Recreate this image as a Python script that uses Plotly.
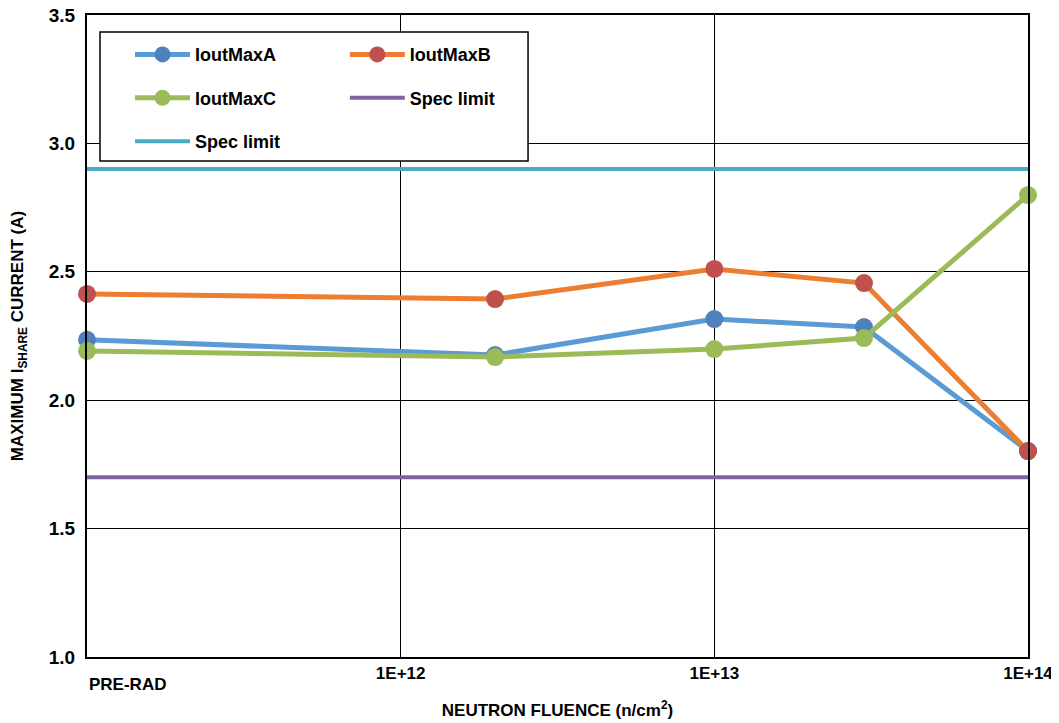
import plotly.graph_objects as go

# ---- data ----
fluence = [1e11, 2e12, 1e13, 3e13, 1e14]
iout_a = [2.235, 2.176, 2.316, 2.285, 1.802]
iout_b = [2.414, 2.394, 2.511, 2.456, 1.802]
iout_c = [2.192, 2.168, 2.199, 2.242, 2.799]
spec_x = [1e11, 1e14]
spec_low = [1.7, 1.7]
spec_high = [2.9, 2.9]
x_tickvals = [1e12, 1e13, 1e14]
x_ticktext = ["1E+12", "1E+13", "1E+14"]
prerad_label = "PRE-RAD"

FONT = "Arial, Liberation Sans, sans-serif"

fig = go.Figure()

def series(x, y, name, line_color, marker_color, legend):
    fig.add_trace(go.Scatter(
        x=x, y=y, name=name, mode="lines+markers",
        line=dict(color=line_color, width=5),
        marker=dict(color=marker_color, size=18),
        cliponaxis=False, legend=legend, legendgroup=name))

series(fluence, iout_a, "IoutMaxA", "#5B9BD5", "#4F81BD", "legend")
series(fluence, iout_b, "IoutMaxB", "#ED7D31", "#C0504D", "legend2")
series(fluence, iout_c, "IoutMaxC", "#9BBB59", "#9BBB59", "legend")
fig.add_trace(go.Scatter(x=spec_x, y=spec_low, name="Spec limit", mode="lines",
                         line=dict(color="#8064A2", width=4), legend="legend2",
                         legendgroup="s1"))
fig.add_trace(go.Scatter(x=spec_x, y=spec_high, name="Spec limit", mode="lines",
                         line=dict(color="#4BACC6", width=4), legend="legend",
                         legendgroup="s2"))

leg_common = dict(font=dict(family=FONT, size=18, color="black", weight="bold"),
                  bgcolor="rgba(0,0,0,0)", borderwidth=0, tracegroupgap=17,
                  itemwidth=55, yanchor="top", xanchor="left", traceorder="grouped")

# page body has an 8px margin, so the figure is 8px smaller than the window
fig.update_layout(
    width=1051, height=715,
    margin=dict(l=79, r=31, t=7, b=66),
    paper_bgcolor="white", plot_bgcolor="white",
    font=dict(family=FONT, size=17, color="black", weight="bold"),
    legend=dict(x=0.0457, y=0.967, **leg_common),
    legend2=dict(x=0.274, y=0.967, **leg_common),
    xaxis=dict(type="log", range=[11, 14], tickvals=x_tickvals, ticktext=x_ticktext,
               automargin=False, ticklabeloverflow="allow",
               showgrid=True, gridcolor="black", gridwidth=1,
               showline=True, linecolor="black", linewidth=2, mirror=True,
               ticks="", tickfont=dict(size=17, weight="bold"),
               title=dict(text="NEUTRON FLUENCE (n/cm<sup>2</sup>)",
                          font=dict(size=17, weight="bold"), standoff=22),
               zeroline=False),
    yaxis=dict(range=[1.0, 3.5], dtick=0.5, tickformat=".1f",
               automargin=False, ticklabelstandoff=6, ticklabeloverflow="allow",
               showgrid=True, gridcolor="black", gridwidth=1,
               showline=True, linecolor="black", linewidth=2, mirror=True,
               ticks="", tickfont=dict(size=19, weight="bold"),
               title=dict(text="MAXIMUM I<sub>SHARE</sub> CURRENT (A)",
                          font=dict(size=17, weight="bold"), standoff=22),
               zeroline=False),
    showlegend=True,
)

fig.add_shape(type="rect", xref="paper", yref="paper",
              x0=0.0138, x1=0.4687, y0=0.7726, y1=0.9735,
              line=dict(color="black", width=1.5), fillcolor="white", layer="above")

fig.add_annotation(x=11, xref="x", y=-0.025, yref="paper", text=prerad_label,
                   showarrow=False, xanchor="left", yanchor="top",
                   font=dict(family=FONT, size=17, weight="bold", color="black"))

fig.write_html("out.html")
